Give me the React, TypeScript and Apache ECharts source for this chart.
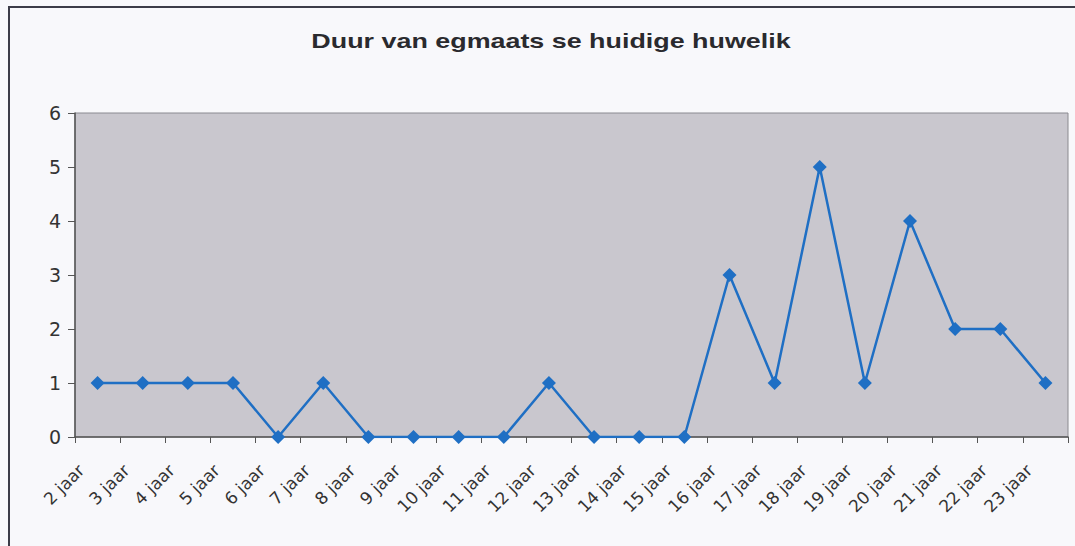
import React, { useEffect, useRef } from "react";
import * as echarts from "echarts";

const title = "Duur van egmaats se huidige huwelik";
const categories = [
  "2 jaar", "3 jaar", "4 jaar", "5 jaar", "6 jaar", "7 jaar", "8 jaar", "9 jaar",
  "10 jaar", "11 jaar", "12 jaar", "13 jaar", "14 jaar", "15 jaar", "16 jaar",
  "17 jaar", "18 jaar", "19 jaar", "20 jaar", "21 jaar", "22 jaar", "23 jaar",
];
const values = [1, 1, 1, 1, 0, 1, 0, 0, 0, 0, 1, 0, 0, 0, 3, 1, 5, 1, 4, 2, 2, 1];
const yMin = 0;
const yMax = 6;
const yStep = 1;

export default function App() {
  const ref = useRef<HTMLDivElement>(null);
  useEffect(() => {
    if (!ref.current) return;
    const chart = echarts.init(ref.current, undefined, { renderer: "svg" });
    chart.setOption({
      animation: false,
      backgroundColor: "#f8f8fb",
      graphic: [
        {
          type: "text",
          x: 551,
          y: 41,
          scaleX: 1.28,
          style: {
            text: title,
            fontFamily: "Liberation Sans, Arial, sans-serif",
            fontWeight: "bold",
            fontSize: 21,
            fill: "#2a2a2e",
            align: "center",
            verticalAlign: "middle",
          },
        },
        {
          type: "polyline",
          shape: { points: [[9, 546], [9, 7], [1075, 7]] },
          style: { stroke: "#3c3c48", lineWidth: 2, fill: "none" },
        },
      ],
      grid: {
        left: 75,
        right: 7,
        top: 113,
        bottom: 109,
        show: true,
        backgroundColor: "#c9c7ce",
        borderColor: "#8a8a90",
        borderWidth: 1,
      },
      xAxis: {
        type: "category",
        data: categories,
        boundaryGap: true,
        axisLine: { lineStyle: { color: "#555", width: 1.5 } },
        axisTick: { show: true, length: 6, lineStyle: { color: "#555" } },
        axisLabel: {
          interval: 0,
          rotate: 45,
          margin: 14,
          padding: [0, 23, 0, 0],
          fontFamily: "DejaVu Sans, sans-serif",
          fontSize: 17,
          color: "#333",
        },
        splitLine: { show: false },
      },
      yAxis: {
        type: "value",
        min: yMin,
        max: yMax,
        interval: yStep,
        axisLine: { show: true, lineStyle: { color: "#555", width: 1.5 } },
        axisTick: { show: true, length: 7, lineStyle: { color: "#555" } },
        axisLabel: {
          margin: 14,
          fontFamily: "DejaVu Sans, sans-serif",
          fontSize: 19,
          color: "#333",
        },
        splitLine: { show: false },
      },
      series: [
        {
          type: "line",
          data: values,
          symbol: "diamond",
          symbolSize: 14,
          lineStyle: { color: "#1f6fc4", width: 2.5 },
          itemStyle: { color: "#1f6fc4" },
        },
      ],
    });
    return () => chart.dispose();
  }, []);
  return (
    <div
      ref={ref}
      style={{ position: "fixed", left: 0, top: 0, width: 1075, height: 546 }}
    />
  );
}
